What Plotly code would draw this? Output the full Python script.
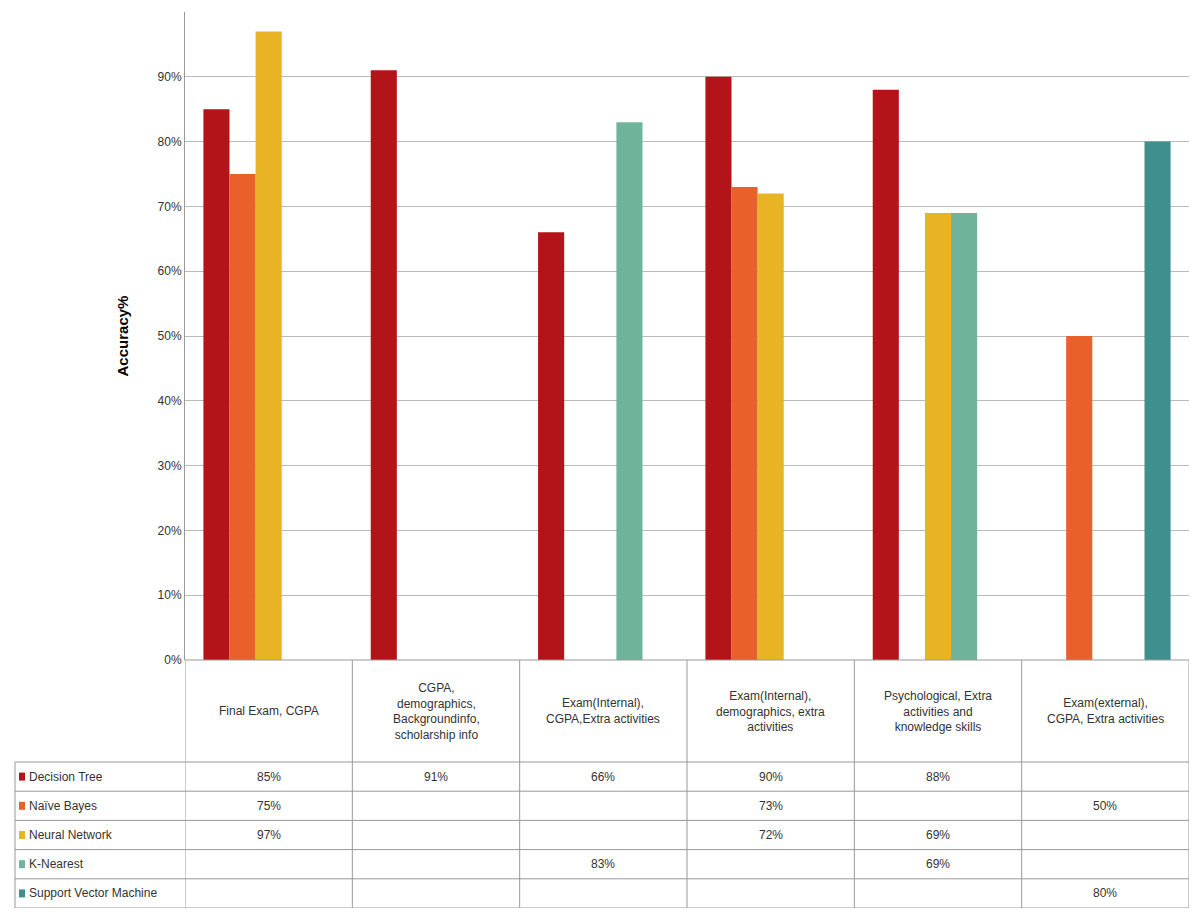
import plotly.graph_objects as go

categories = ["Final Exam, CGPA",
              "CGPA,<br>demographics,<br>Backgroundinfo,<br>scholarship info",
              "Exam(Internal),<br>CGPA,Extra activities",
              "Exam(Internal),<br>demographics, extra<br>activities",
              "Psychological, Extra<br>activities and<br>knowledge skills",
              "Exam(external),<br>CGPA, Extra activities"]
series = ["Decision Tree", "Naïve Bayes", "Neural Network", "K-Nearest", "Support Vector Machine"]
decision_tree = [85, 91, 66, 90, 88, None]
naive_bayes = [75, None, None, 73, None, 50]
neural_network = [97, None, None, 72, 69, None]
k_nearest = [None, None, 83, None, 69, None]
svm = [None, None, None, None, None, 80]
values = [decision_tree, naive_bayes, neural_network, k_nearest, svm]
colors = ["#b3141a", "#e8612a", "#e8b325", "#6fb39a", "#3f8f8f"]

# page has an 8px body margin, so work in screen coords and shift
OFF = 8
W, H = 1200 - 2 * OFF, 916 - 2 * OFF
L, R, T = 185 - OFF, 3, 12 - OFF
bottom = 660 - OFF
B = H - bottom
pw, ph = W - L - R, H - T - B
px = lambda x: (x - OFF - L) / pw
py = lambda y: (bottom - (y - OFF)) / ph

fig = go.Figure()
xs = list(range(len(categories)))
for name, v, c in zip(series, values, colors):
    fig.add_trace(go.Bar(x=xs, y=v, name=name, marker_color=c, marker_line_width=0))

shapes, ann = [], []
line = dict(color="#999", width=1)
header_bottom = 762
rows = [762 + 29.2 * i for i in range(6)]
for i in range(len(categories) + 1):
    shapes.append(dict(type="line", xref="x", yref="paper", x0=i - 0.5, x1=i - 0.5,
                       y0=0, y1=py(rows[-1]), line=line))
shapes.append(dict(type="line", xref="paper", yref="paper", x0=px(15), x1=px(15),
                   y0=py(rows[0]), y1=py(rows[-1]), line=line))
shapes.append(dict(type="line", xref="paper", yref="paper", x0=0, x1=1,
                   y0=0, y1=0, line=line))
for y in rows:
    shapes.append(dict(type="line", xref="paper", yref="paper", x0=px(15), x1=1,
                       y0=py(y), y1=py(y), line=line))
for i, c in enumerate(categories):
    ann.append(dict(x=i, y=py((660 + header_bottom) / 2), xref="x", yref="paper",
                    yanchor="middle", text=c, showarrow=False, font=dict(size=12, color="#333")))
for r, (name, v, c) in enumerate(zip(series, values, colors)):
    yc = py((rows[r] + rows[r + 1]) / 2)
    shapes.append(dict(type="rect", xref="paper", yref="paper", x0=px(19), x1=px(25),
                       y0=yc - 4 / ph, y1=yc + 4 / ph, fillcolor=c, line_width=0))
    ann.append(dict(x=px(27), y=yc, xref="paper", yref="paper", text=name, xanchor="left",
                    yanchor="middle", showarrow=False, font=dict(size=12, color="#333")))
    for i, val in enumerate(v):
        if val is not None:
            ann.append(dict(x=i, y=yc, xref="x", yref="paper", text=f"{val}%", yanchor="middle",
                            showarrow=False, font=dict(size=12, color="#333")))

fig.update_layout(
    width=W, height=H, margin=dict(l=L, r=R, t=T, b=B),
    barmode="group", bargap=0.22, bargroupgap=0,
    plot_bgcolor="white", paper_bgcolor="white", showlegend=False,
    font=dict(family="Liberation Sans, Arial", size=12, color="#333"),
    shapes=shapes, annotations=ann,
    xaxis=dict(range=[-0.5, 5.5], showticklabels=False, showgrid=False, zeroline=False),
    yaxis=dict(range=[0, 100], dtick=10, ticksuffix="%", showgrid=True, gridcolor="#bbb",
               showline=True, linecolor="#999", zeroline=False, ticks="",
               title=dict(text="<b>Accuracy%</b>", font=dict(size=15, color="black"), standoff=25)),
)
fig.write_html("out.html")
